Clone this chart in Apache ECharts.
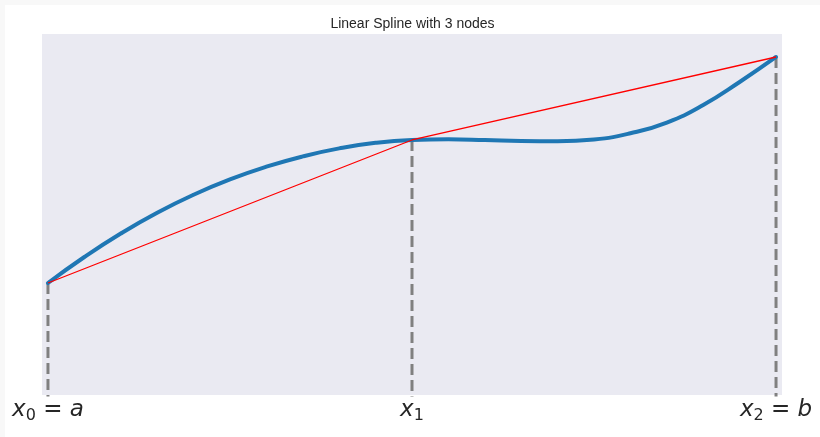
<!DOCTYPE html>
<html>
<head>
<meta charset="utf-8">
<script src="https://cdn.jsdelivr.net/npm/echarts@6/dist/echarts.min.js"></script>
<style>
  html, body { margin: 0; padding: 0; background: #f8f8f8; width: 820px; height: 437px; overflow: hidden; }
  #chart { position: absolute; left: 5px; top: 5px; width: 815px; height: 432px; background: #ffffff; }
</style>
</head>
<body>
<div id="chart"></div>
<script>
// Node positions and values
var nodeX = [0, 0.5, 1];
var nodeY = [0.3102, 0.7064, 0.9363];
var tickLabels = ['{i|x}{s|0}{n| = }{i|a}', '{i|x}{s|1}', '{i|x}{s|2}{n| = }{i|b}'];

// Underlying function sampled (x, y)
var curveX = [0, 0.05, 0.10, 0.15, 0.20, 0.25, 0.30, 0.35, 0.40, 0.45, 0.50,
              0.55, 0.60, 0.65, 0.70, 0.75, 0.80, 0.85, 0.90, 0.95, 1.0];
var curveY = [0.3102, 0.3823, 0.4474, 0.5050, 0.5548, 0.5972, 0.6324, 0.6609, 0.6831, 0.6986, 0.7064,
              0.7083, 0.7064, 0.7036, 0.7028, 0.7078, 0.7249, 0.7548, 0.8033, 0.8670, 0.9363];

var yMin = 0, yMax = 1;
var xMin = -0.0082, xMax = 1.0082;

var chart = echarts.init(document.getElementById('chart'), null, { renderer: 'canvas' });

var series = [];
for (var k = 0; k < nodeX.length; k++) {
  series.push({
    type: 'line',
    data: [[nodeX[k], nodeY[k]], [nodeX[k], yMin - 0.05]],
    showSymbol: false,
    symbol: 'none',
    silent: true,
    lineStyle: { color: '#808080', width: 3, type: [11, 5] },
    z: 1
  });
}
series.push({
  type: 'line',
  data: curveX.map(function (x, i) { return [x, curveY[i]]; }),
  smooth: 0.5,
  symbol: 'none',
  lineStyle: { color: '#1f77b4', width: 4, cap: 'round' },
  z: 2
});
series.push({
  type: 'line',
  data: nodeX.map(function (x, i) { return [x, nodeY[i]]; }),
  symbol: 'none',
  lineStyle: { color: '#ff0000', width: 1.3 },
  z: 3
});

chart.setOption({
  animation: false,
  title: {
    text: 'Linear Spline with 3 nodes',
    left: 'center',
    top: 7,
    textStyle: { fontFamily: 'Liberation Sans, Arial, sans-serif', fontSize: 14, fontWeight: 'normal', color: '#262626' }
  },
  grid: {
    left: 37, top: 29, width: 740, height: 361,
    show: true, backgroundColor: '#eaeaf2', borderWidth: 0
  },
  xAxis: {
    type: 'value', min: xMin, max: xMax,
    axisLine: { show: false }, axisTick: { show: false }, splitLine: { show: false },
    axisLabel: {
      customValues: nodeX,
      margin: 1,
      formatter: function (v) {
        var idx = nodeX.indexOf(v);
        return idx >= 0 ? tickLabels[idx] : '';
      },
      rich: {
        i: { fontFamily: 'DejaVu Sans', fontStyle: 'italic', fontSize: 23, lineHeight: 28, color: '#262626' },
        n: { fontFamily: 'DejaVu Sans', fontSize: 23, lineHeight: 28, color: '#262626' },
        s: { fontFamily: 'DejaVu Sans', fontSize: 16, lineHeight: 14, verticalAlign: 'bottom', color: '#262626' }
      }
    }
  },
  yAxis: {
    type: 'value', min: yMin, max: yMax,
    axisLine: { show: false }, axisTick: { show: false }, splitLine: { show: false },
    axisLabel: { show: false }
  },
  series: series
});
</script>
</body>
</html>
